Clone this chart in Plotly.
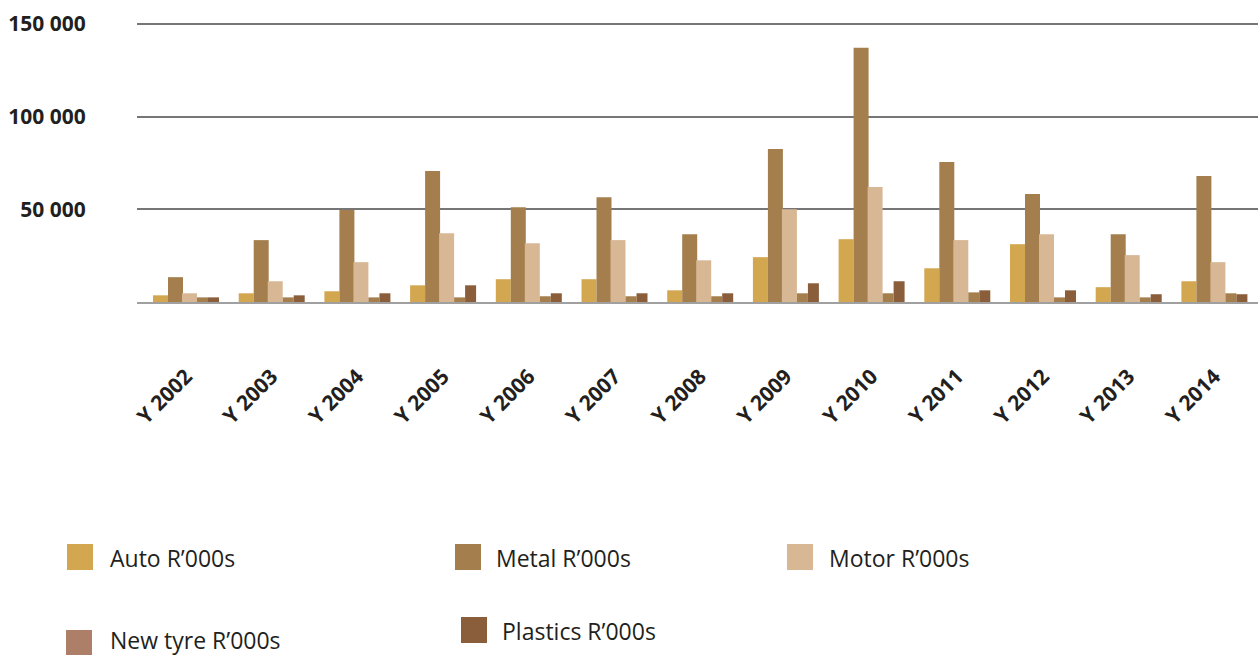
import plotly.graph_objects as go

# Yearly values per sector, R'000s
years = ["Y 2002", "Y 2003", "Y 2004", "Y 2005", "Y 2006", "Y 2007", "Y 2008",
         "Y 2009", "Y 2010", "Y 2011", "Y 2012", "Y 2013", "Y 2014"]
auto = [3600, 4700, 5800, 9000, 12300, 12300, 6300, 24200, 33900, 18200, 31200, 8000, 11200]
metal = [13400, 33400, 49600, 70700, 51200, 56600, 36600, 82600, 137200, 75600, 58300, 36600, 68000]
motor = [4700, 11200, 21500, 37100, 31700, 33400, 22500, 50100, 62000, 33400, 36600, 25300, 21500]
new_tyre = [2500, 2500, 2500, 2500, 3100, 3100, 3100, 4700, 4700, 5200, 2500, 2500, 4700]
plastics = [2500, 3600, 4700, 9000, 4700, 4700, 4700, 10100, 11200, 6300, 6300, 4200, 4200]

y_ticks = [50000, 100000, 150000]
y_tick_text = ["50 000", "100 000", "150 000"]

W, H = 1258, 655
L, T, B = 137, 20, 353
plot_w = W - L
plot_h = H - T - B
cat_px = 85.7          # pixels per category
first_center = 186     # pixel x of the first group centre

series = [
    ("Auto R’000s", auto, "#D3A650", -33, 15),
    ("Metal R’000s", metal, "#A47F4D", -18, 15),
    ("Motor R’000s", motor, "#D8B795", -4, 15),
    ("New tyre R’000s", new_tyre, "#A47F4D", 11, 11),
    ("Plastics R’000s", plastics, "#8A5E3B", 22, 11),
]

fig = go.Figure()
for name, vals, color, off_px, w_px in series:
    fig.add_trace(go.Bar(
        x=years, y=vals, name=name, marker_color=color, marker_line_width=0,
        offset=off_px / cat_px, width=w_px / cat_px, showlegend=False,
    ))

x0 = (L - first_center) / cat_px
fig.update_layout(
    width=W, height=H,
    margin=dict(l=L, r=0, t=T, b=B, pad=0),
    paper_bgcolor="white", plot_bgcolor="white",
    barmode="group",
    font=dict(family="Open Sans", color="#231F20"),
    xaxis=dict(
        type="category", range=[x0, x0 + plot_w / cat_px],
        showgrid=False, zeroline=False,
        showline=True, linecolor="#A0A0A0", linewidth=2,
        tickangle=-45, ticks="outside", ticklen=52, tickcolor="rgba(0,0,0,0)",
        tickfont=dict(family="Open Sans", size=21, weight="bold", color="#231F20"),
    ),
    yaxis=dict(
        range=[0, 152200],
        tickvals=y_ticks, ticktext=y_tick_text,
        showgrid=True, gridcolor="#767676", gridwidth=1.6,
        zeroline=False, showline=False,
        ticks="outside", ticklen=46, tickcolor="rgba(0,0,0,0)",
        tickfont=dict(family="Open Sans", size=21, weight="bold", color="#231F20"),
    ),
)

# Legend drawn as swatches and labels placed in pixel positions
legend_items = [
    ("Auto R’000s", "#D3A650", 67, 544, 108),
    ("Metal R’000s", "#A47F4D", 455, 544, 494),
    ("Motor R’000s", "#D8B795", 787, 544, 827),
    ("New tyre R’000s", "#AE7F68", 66, 630, 108),
    ("Plastics R’000s", "#8A5E3B", 461, 617, 500),
]
sw = 26

def px_x(px):
    return (px - L) / plot_w

def px_y(py):
    return (H - B - py) / plot_h

for label, color, sx, sy, tx in legend_items:
    fig.add_shape(type="rect", xref="paper", yref="paper",
                  x0=px_x(sx), x1=px_x(sx + sw), y0=px_y(sy + sw), y1=px_y(sy),
                  fillcolor=color, line_width=0)
    ty = min(sy + sw / 2 + 1, 640)
    fig.add_annotation(xref="paper", yref="paper", x=px_x(tx), y=px_y(ty),
                       text=label, showarrow=False, xanchor="left", yanchor="middle",
                       font=dict(family="Open Sans", size=23, color="#231F20"))

fig.write_html("out.html")
